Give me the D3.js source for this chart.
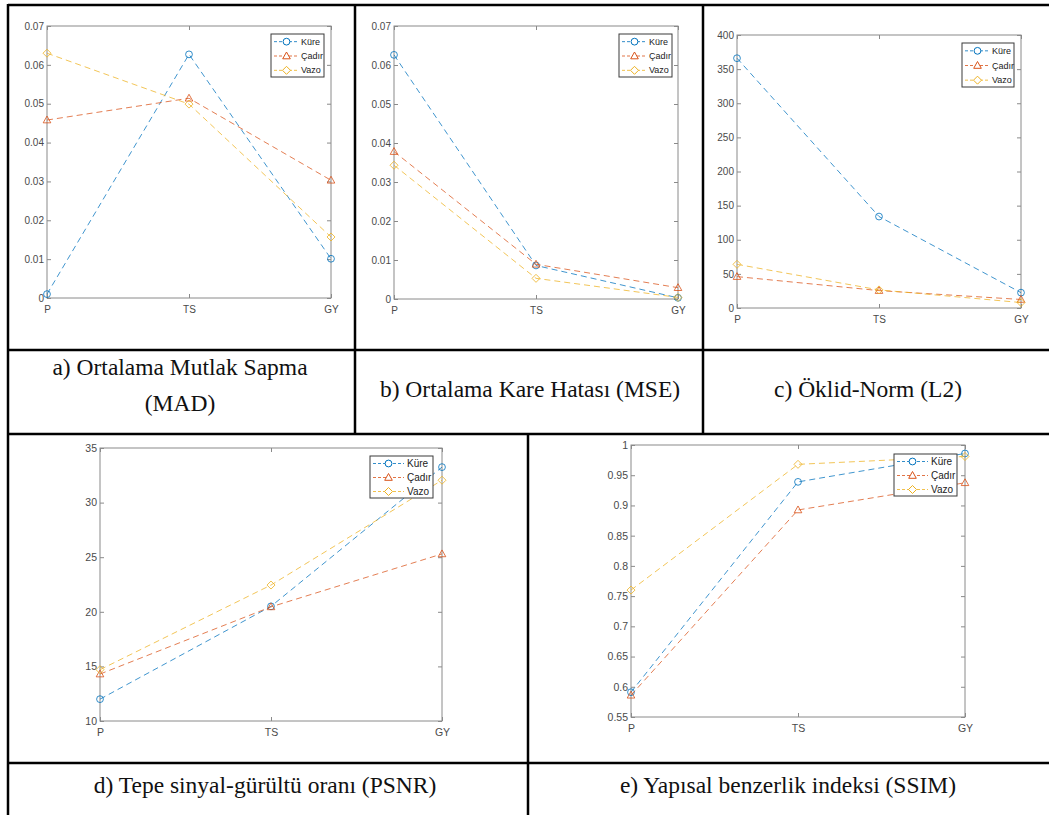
<!DOCTYPE html>
<html><head><meta charset="utf-8">
<script src="https://cdn.jsdelivr.net/npm/d3@7"></script>
<style>body{margin:0;background:#fff;} svg{display:block}
.cap{font-family:"Liberation Serif","Times New Roman",serif;}
.sans{font-family:"Liberation Sans",Arial,sans-serif;}</style>
</head><body><svg id="c" width="1049" height="815"></svg>
<script>
const categories = ["P", "TS", "GY"];
const seriesNames = ["Küre", "Çadır", "Vazo"];
const seriesColors = ["#0072BD", "#D95319", "#EDB120"];

// a) MAD
const madKure  = [0.001, 0.0627, 0.0101];
const madCadir = [0.0458, 0.0514, 0.0303];
const madVazo  = [0.063, 0.0499, 0.0157];
const madTicks = [0, 0.01, 0.02, 0.03, 0.04, 0.05, 0.06, 0.07];
// b) MSE
const mseKure  = [0.0626, 0.0086, 0.0003];
const mseCadir = [0.0378, 0.0089, 0.0029];
const mseVazo  = [0.0343, 0.0053, 0.0004];
const mseTicks = [0, 0.01, 0.02, 0.03, 0.04, 0.05, 0.06, 0.07];
// c) L2
const l2Kure  = [366, 134, 22.5];
const l2Cadir = [46, 25.5, 12.5];
const l2Vazo  = [64, 26.5, 8];
const l2Ticks = [0, 50, 100, 150, 200, 250, 300, 350, 400];
// d) PSNR
const psnrKure  = [12.0, 20.5, 33.25];
const psnrCadir = [14.3, 20.45, 25.3];
const psnrVazo  = [14.7, 22.45, 32.05];
const psnrTicks = [10, 15, 20, 25, 30, 35];
// e) SSIM
const ssimKure  = [0.591, 0.939, 0.986];
const ssimCadir = [0.586, 0.8925, 0.9375];
const ssimVazo  = [0.76, 0.968, 0.981];
const ssimTicks = [0.55, 0.6, 0.65, 0.7, 0.75, 0.8, 0.85, 0.9, 0.95, 1];

const captionA1 = "a) Ortalama Mutlak Sapma";
const captionA2 = "(MAD)";
const captionB = "b) Ortalama Kare Hatası (MSE)";
const captionC = "c) Öklid-Norm (L2)";
const captionD = "d) Tepe sinyal-gürültü oranı (PSNR)";
const captionE = "e) Yapısal benzerlik indeksi (SSIM)";

const svg = d3.select("#c");

function markerPath(i) {
  if (i === 0) { const r = 3.4; return `M${-r},0A${r},${r} 0 1,0 ${r},0A${r},${r} 0 1,0 ${-r},0Z`; }
  if (i === 1) { return "M0,-4L3.8,2.8L-3.8,2.8Z"; }
  return "M0,-4L4,0L0,4L-4,0Z";
}

function panel(p) {
  const g = svg.append("g");
  const x = d3.scalePoint().domain(categories).range([p.x0, p.x1]).padding(0);
  const y = d3.scaleLinear().domain([p.ticks[0], p.ticks[p.ticks.length - 1]]).range([p.y1, p.y0]);
  const tickCol = "#8a8a8a";
  const labCol = "#4a4a4a";
  const ax = g.append("g").attr("transform", `translate(${p.x0},0)`)
    .call(d3.axisLeft(y).tickValues(p.ticks).tickSize(-4).tickPadding(3).tickFormat(d => String(d)));
  const bx = g.append("g").attr("transform", `translate(0,${p.y1})`)
    .call(d3.axisBottom(x).tickSize(-4).tickPadding(8));
  const rx = g.append("g").attr("transform", `translate(${p.x1},0)`)
    .call(d3.axisRight(y).tickValues(p.ticks).tickSize(-4).tickFormat(""));
  const tx = g.append("g").attr("transform", `translate(0,${p.y0})`)
    .call(d3.axisTop(x).tickSize(-4).tickFormat(""));
  [ax, bx, rx, tx].forEach(a => {
    a.attr("font-family", null);
    a.select(".domain").remove();
    a.selectAll("line").attr("stroke", tickCol);
    a.selectAll("text").attr("fill", labCol).attr("class", "sans").attr("font-size", p.fs);
  });
  g.append("rect").attr("x", p.x0).attr("y", p.y0).attr("width", p.x1 - p.x0).attr("height", p.y1 - p.y0)
    .attr("fill", "none").attr("stroke", tickCol).attr("stroke-width", 1);

  const line = d3.line().x((d, i) => x(categories[i])).y(d => y(d));
  p.series.forEach((vals, si) => {
    g.append("path").attr("d", line(vals)).attr("fill", "none")
      .attr("stroke", seriesColors[si]).attr("stroke-width", 1).attr("stroke-opacity", 0.75)
      .attr("stroke-dasharray", "6,4");
    vals.forEach((v, i) => {
      g.append("path").attr("d", markerPath(si))
        .attr("transform", `translate(${x(categories[i])},${y(v)})`)
        .attr("fill", "none").attr("stroke", seriesColors[si]).attr("stroke-width", 1).attr("stroke-opacity", 0.8);
    });
  });

  const L = p.leg;
  const lg = g.append("g");
  lg.append("rect").attr("x", L.x).attr("y", L.y).attr("width", L.w).attr("height", L.h)
    .attr("fill", "#fff").attr("stroke", "#3a3a3a").attr("stroke-width", 1);
  seriesNames.forEach((name, si) => {
    const cy = L.y + L.h * (si + 0.5) / 3 + 0.5;
    lg.append("line").attr("x1", L.x + 3).attr("x2", L.x + 3 + L.ll).attr("y1", cy).attr("y2", cy)
      .attr("stroke", seriesColors[si]).attr("stroke-width", 1).attr("stroke-opacity", 0.8).attr("stroke-dasharray", "3,2");
    lg.append("path").attr("d", markerPath(si)).attr("transform", `translate(${L.x + 3 + L.ll / 2},${cy})`)
      .attr("fill", "#fff").attr("stroke", seriesColors[si]).attr("stroke-width", 1);
    lg.append("text").attr("x", L.x + L.to).attr("y", cy).attr("dy", "0.35em")
      .attr("class", "sans").attr("font-size", p.lfs)
      .attr("fill", "#222").text(name);
  });
}

panel({x0: 47, x1: 331, y0: 26, y1: 298, ticks: madTicks, series: [madKure, madCadir, madVazo], fs: 10, lfs: 9,
  leg: {x: 271, y: 34, w: 53, h: 43, ll: 25, to: 30}});
panel({x0: 394, x1: 678, y0: 26, y1: 299, ticks: mseTicks, series: [mseKure, mseCadir, mseVazo], fs: 10, lfs: 9,
  leg: {x: 619, y: 34, w: 53, h: 43, ll: 25, to: 30}});
panel({x0: 737, x1: 1021, y0: 35, y1: 308, ticks: l2Ticks, series: [l2Kure, l2Cadir, l2Vazo], fs: 10, lfs: 9,
  leg: {x: 962, y: 43, w: 52, h: 44, ll: 25, to: 30}});
panel({x0: 100, x1: 442, y0: 448, y1: 721, ticks: psnrTicks, series: [psnrKure, psnrCadir, psnrVazo], fs: 10.5, lfs: 10,
  leg: {x: 370, y: 456, w: 63, h: 42, ll: 31, to: 37}});
panel({x0: 631, x1: 965, y0: 445, y1: 717, ticks: ssimTicks, series: [ssimKure, ssimCadir, ssimVazo], fs: 10.5, lfs: 10,
  leg: {x: 894, y: 454, w: 63, h: 42, ll: 31, to: 37}});

const tb = svg.append("g").attr("stroke", "#000").attr("stroke-width", 2.5);
[[8, 5, 1049, 5], [8, 350, 1049, 350], [8, 434, 1049, 434], [8, 763, 1049, 763],
 [8, 4, 8, 815], [355, 5, 355, 434], [703, 5, 703, 434], [528, 434, 528, 815]]
  .forEach(l => tb.append("line").attr("x1", l[0]).attr("y1", l[1]).attr("x2", l[2]).attr("y2", l[3]));

const caps = [[captionA1, 180, 367], [captionA2, 180, 403], [captionB, 530, 389], [captionC, 868, 389],
  [captionD, 265, 785], [captionE, 788, 785]];
caps.forEach(c => svg.append("text").attr("x", c[1]).attr("y", c[2]).attr("dy", "0.32em")
  .attr("text-anchor", "middle").attr("class", "cap")
  .attr("font-size", 23.5).attr("fill", "#111").text(c[0]));
</script></body></html>
